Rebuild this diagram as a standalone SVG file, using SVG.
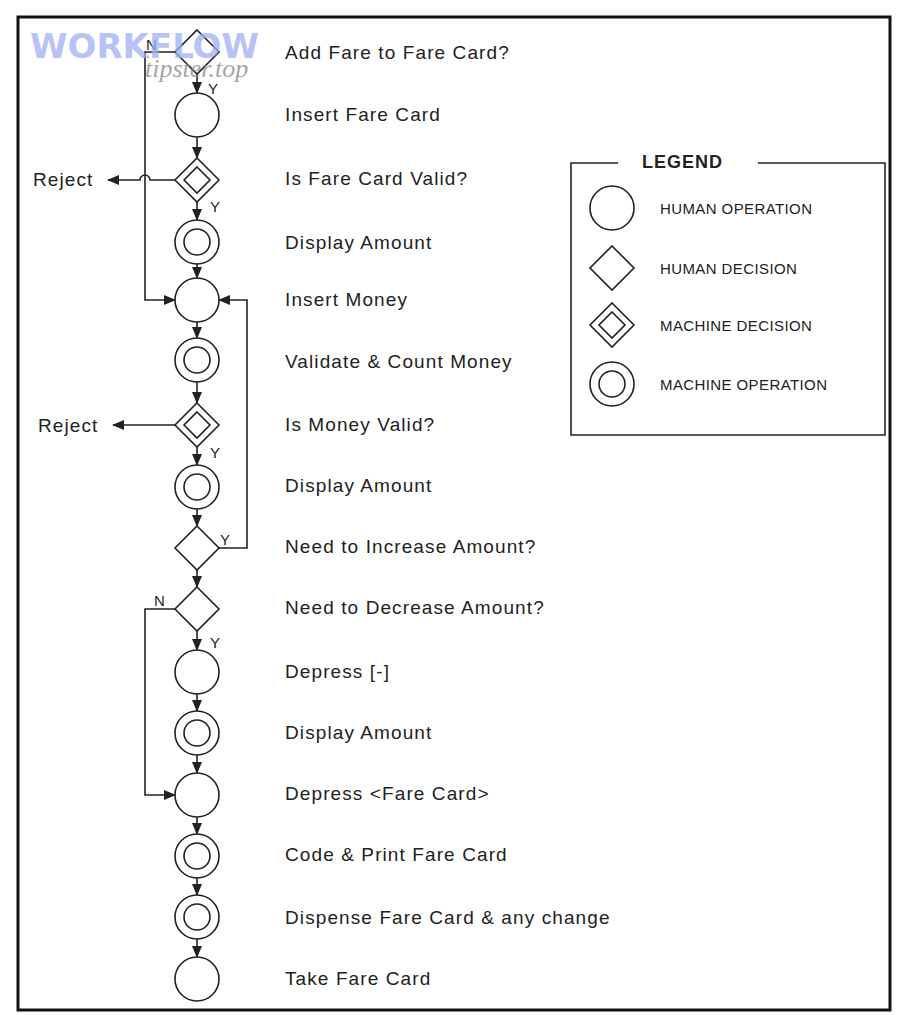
<svg xmlns="http://www.w3.org/2000/svg" width="900" height="1015" viewBox="0 0 900 1015">
<style>
.s{fill:#fff;stroke:#222;stroke-width:1.6}
.l{fill:none;stroke:#222;stroke-width:1.6}
.t{font-family:"Liberation Sans",Arial,sans-serif;font-size:19px;letter-spacing:1.1px;fill:#222}
.y{font-family:"Liberation Sans",Arial,sans-serif;font-size:15px;fill:#222}
.g{font-family:"Liberation Sans",Arial,sans-serif;font-size:15px;letter-spacing:0.4px;fill:#222}
</style>
<defs>
<marker id="a" markerWidth="12" markerHeight="12" refX="11" refY="6" orient="auto" markerUnits="userSpaceOnUse"><path d="M0,1 L12,6 L0,11 Z" fill="#222"/></marker>
<g id="ho"><circle r="22" class="s"/></g>
<g id="hd"><path d="M0,-22 L22,0 L0,22 L-22,0 Z" class="s"/></g>
<g id="md"><path d="M0,-22 L22,0 L0,22 L-22,0 Z" class="s"/><path d="M0,-13 L13,0 L0,13 L-13,0 Z" class="s"/></g>
<g id="mo"><circle r="22" class="s"/><circle r="13" class="s"/></g>
</defs>
<rect width="900" height="1015" fill="#fff"/>
<rect x="18" y="17" width="872" height="993" fill="none" stroke="#111" stroke-width="3"/>
<g id="connectors">
<path class="l" d="M197,74 V93" marker-end="url(#a)"/>
<path class="l" d="M197,137 V158" marker-end="url(#a)"/>
<path class="l" d="M197,202 V220" marker-end="url(#a)"/>
<path class="l" d="M197,264 V278" marker-end="url(#a)"/>
<path class="l" d="M197,322 V338" marker-end="url(#a)"/>
<path class="l" d="M197,382 V403" marker-end="url(#a)"/>
<path class="l" d="M197,447 V465" marker-end="url(#a)"/>
<path class="l" d="M197,509 V526" marker-end="url(#a)"/>
<path class="l" d="M197,570 V587" marker-end="url(#a)"/>
<path class="l" d="M197,631 V650" marker-end="url(#a)"/>
<path class="l" d="M197,694 V711" marker-end="url(#a)"/>
<path class="l" d="M197,755 V773" marker-end="url(#a)"/>
<path class="l" d="M197,817 V834" marker-end="url(#a)"/>
<path class="l" d="M197,878 V895" marker-end="url(#a)"/>
<path class="l" d="M197,939 V957" marker-end="url(#a)"/>
<path class="l" d="M175,52 H145 V300 H175" marker-end="url(#a)"/>
<path class="l" d="M175,180 H150 A5,5 0 0 0 140,180 H108" marker-end="url(#a)"/>
<path class="l" d="M175,425 H113" marker-end="url(#a)"/>
<path class="l" d="M219,548 H247 V300 H219" marker-end="url(#a)"/>
<path class="l" d="M175,609 H145 V795 H175" marker-end="url(#a)"/>
</g>
<g id="n1"><use href="#hd" x="197" y="52"/><text class="t" x="285" y="59">Add Fare to Fare Card?</text></g>
<g id="n2"><use href="#ho" x="197" y="115"/><text class="t" x="285" y="121">Insert Fare Card</text></g>
<g id="n3"><use href="#md" x="197" y="180"/><text class="t" x="285" y="185">Is Fare Card Valid?</text></g>
<g id="n4"><use href="#mo" x="197" y="242"/><text class="t" x="285" y="249">Display Amount</text></g>
<g id="n5"><use href="#ho" x="197" y="300"/><text class="t" x="285" y="306">Insert Money</text></g>
<g id="n6"><use href="#mo" x="197" y="360"/><text class="t" x="285" y="368">Validate &amp; Count Money</text></g>
<g id="n7"><use href="#md" x="197" y="425"/><text class="t" x="285" y="431">Is Money Valid?</text></g>
<g id="n8"><use href="#mo" x="197" y="487"/><text class="t" x="285" y="492">Display Amount</text></g>
<g id="n9"><use href="#hd" x="197" y="548"/><text class="t" x="285" y="553">Need to Increase Amount?</text></g>
<g id="n10"><use href="#hd" x="197" y="609"/><text class="t" x="285" y="614">Need to Decrease Amount?</text></g>
<g id="n11"><use href="#ho" x="197" y="672"/><text class="t" x="285" y="678">Depress [-]</text></g>
<g id="n12"><use href="#mo" x="197" y="733"/><text class="t" x="285" y="739">Display Amount</text></g>
<g id="n13"><use href="#ho" x="197" y="795"/><text class="t" x="285" y="800">Depress &lt;Fare Card&gt;</text></g>
<g id="n14"><use href="#mo" x="197" y="856"/><text class="t" x="285" y="861">Code &amp; Print Fare Card</text></g>
<g id="n15"><use href="#mo" x="197" y="917"/><text class="t" x="285" y="924">Dispense Fare Card &amp; any change</text></g>
<g id="n16"><use href="#ho" x="197" y="979"/><text class="t" x="285" y="985">Take Fare Card</text></g>
<g id="labels">
<text class="t" x="33" y="186">Reject</text>
<text class="t" x="38" y="432">Reject</text>
<text class="y" x="146" y="50">N</text>
<text class="y" x="208" y="94">Y</text>
<text class="y" x="210" y="212">Y</text>
<text class="y" x="210" y="458">Y</text>
<text class="y" x="220" y="545">Y</text>
<text class="y" x="154" y="606">N</text>
<text class="y" x="210" y="648">Y</text>
</g>
<g id="legend">
<path class="l" d="M618,163 H571 V435 H885 V163 H758"/>
<text x="642" y="168" style="font-family:'Liberation Sans',Arial,sans-serif;font-size:18px;font-weight:bold;letter-spacing:1px;fill:#222">LEGEND</text>
<use href="#ho" x="612" y="208"/><text class="g" x="660" y="214">HUMAN OPERATION</text>
<use href="#hd" x="612" y="268"/><text class="g" x="660" y="274">HUMAN DECISION</text>
<use href="#md" x="612" y="325"/><text class="g" x="660" y="331">MACHINE DECISION</text>
<use href="#mo" x="612" y="384"/><text class="g" x="660" y="390">MACHINE OPERATION</text>
</g>
<g id="watermark" opacity="0.75">
<text x="30" y="58" style="font-family:'DejaVu Sans',sans-serif;font-size:34px;font-weight:bold;fill:#9fb0f5">WORKFLOW</text>
<text x="145" y="77" style="font-family:'Liberation Serif',serif;font-size:26px;font-style:italic;fill:#888">tipster.top</text>
</g>
</svg>
